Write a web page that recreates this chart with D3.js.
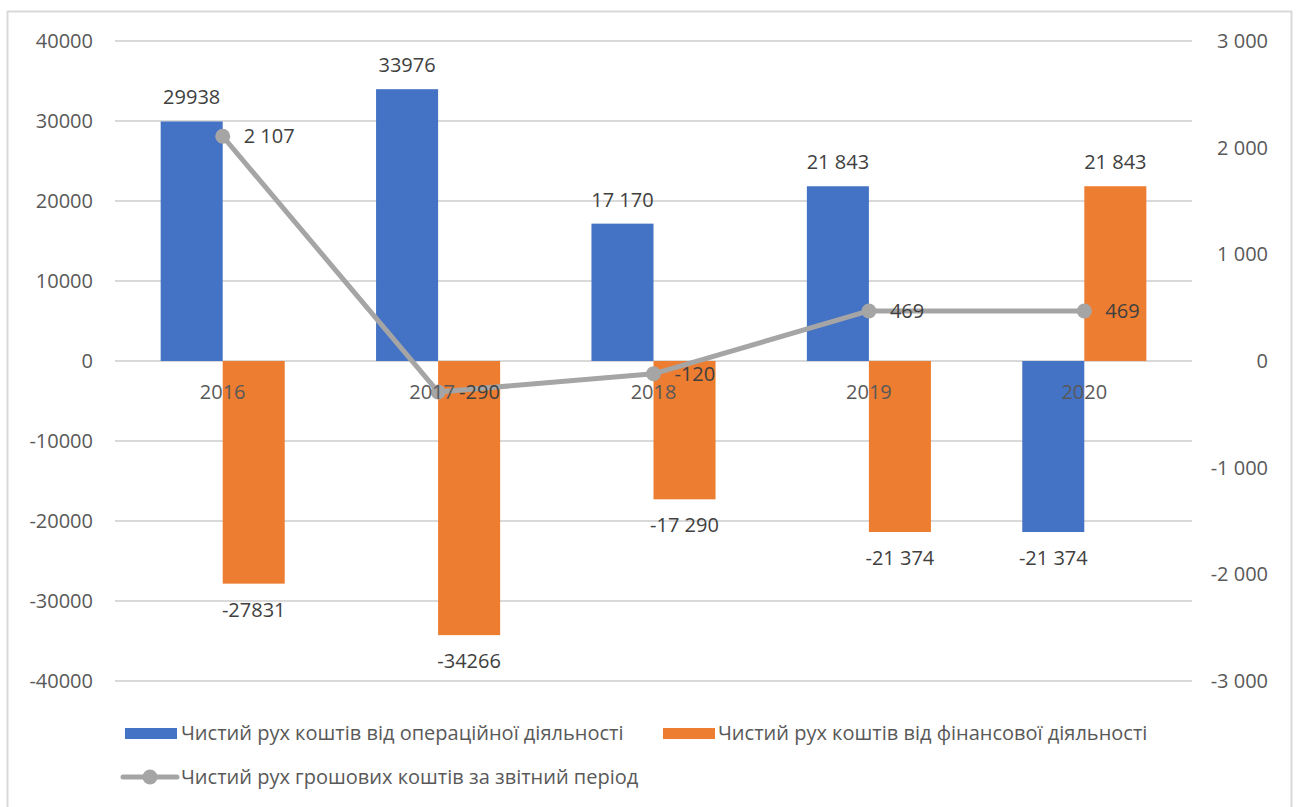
<!DOCTYPE html>
<html>
<head>
<meta charset="utf-8">
<script src="https://cdn.jsdelivr.net/npm/d3@7"></script>
<style>
  body { margin: 0; background: #fff; }
  text { font-family: 'Open Sans', sans-serif; }
</style>
</head>
<body>
<div id="container"></div>
<script>
const years = ['2016', '2017', '2018', '2019', '2020'];
const operating = [29938, 33976, 17170, 21843, -21374];
const financing = [-27831, -34266, -17290, -21374, 21843];
const netCash = [2107, -290, -120, 469, 469];
const operatingLabels = ['29938', '33976', '17 170', '21 843', '-21 374'];
const financingLabels = ['-27831', '-34266', '-17 290', '-21 374', '21 843'];
const netCashLabels = ['2 107', '-290', '-120', '469', '469'];
const leftTicks = [40000, 30000, 20000, 10000, 0, -10000, -20000, -30000, -40000];
const rightTicks = [3000, 2000, 1000, 0, -1000, -2000, -3000];
const seriesNames = [
  'Чистий рух коштів від операційної діяльності',
  'Чистий рух коштів від фінансової діяльності',
  'Чистий рух грошових коштів за звітний період',
];

const width = 1299;
const height = 807;
const colors = { blue: '#4472C4', orange: '#ED7D31', gray: '#A5A5A5' };
const fontSize = '20px';

const svg = d3
  .select('#container')
  .append('svg')
  .attr('width', width)
  .attr('height', height);

// chart border
svg.append('rect')
  .attr('x', 7.5).attr('y', 11.5)
  .attr('width', 1284).attr('height', 810)
  .attr('fill', 'none')
  .attr('stroke', '#d9d9d9')
  .attr('stroke-width', 2);

const x = d3.scaleBand()
  .domain(years)
  .range([115, 1192])
  .paddingInner(0.424)
  .paddingOuter(0.212);

const x1 = d3.scaleBand()
  .domain(['op', 'fin'])
  .range([0, x.bandwidth()]);

const yL = d3.scaleLinear().domain([-40000, 40000]).range([681, 41]);
const yR = d3.scaleLinear().domain([-3000, 3000]).range([681, 41]);

// gridlines
svg.append('g')
  .selectAll('line')
  .data(leftTicks)
  .enter()
  .append('line')
  .attr('x1', 115).attr('x2', 1192)
  .attr('y1', d => yL(d)).attr('y2', d => yL(d))
  .attr('stroke', '#d9d9d9')
  .attr('stroke-width', 2);

// left axis labels
svg.append('g')
  .selectAll('text')
  .data(leftTicks)
  .enter()
  .append('text')
  .attr('x', 93)
  .attr('y', d => yL(d))
  .attr('dy', '0.35em')
  .attr('text-anchor', 'end')
  .attr('font-size', fontSize)
  .attr('fill', '#595959')
  .text(d => d);

// right axis labels
const fmtR = d => (d < 0 ? '-' : '') + d3.format(',')(Math.abs(d)).replace(/,/g, ' ');
svg.append('g')
  .selectAll('text')
  .data(rightTicks)
  .enter()
  .append('text')
  .attr('x', 1268)
  .attr('y', d => yR(d))
  .attr('dy', '0.35em')
  .attr('text-anchor', 'end')
  .attr('font-size', fontSize)
  .attr('fill', '#595959')
  .text(fmtR);

// bars
const bars = [
  { key: 'op', values: operating, labels: operatingLabels, color: colors.blue },
  { key: 'fin', values: financing, labels: financingLabels, color: colors.orange },
];

bars.forEach(s => {
  const g = svg.append('g');
  g.selectAll('rect')
    .data(s.values)
    .enter()
    .append('rect')
    .attr('x', (d, i) => x(years[i]) + x1(s.key))
    .attr('width', x1.bandwidth())
    .attr('y', d => yL(Math.max(0, d)))
    .attr('height', d => Math.abs(yL(d) - yL(0)))
    .attr('fill', s.color);
});

// bar data labels
bars.forEach(s => {
  svg.append('g')
    .selectAll('text')
    .data(s.values)
    .enter()
    .append('text')
    .attr('x', (d, i) => x(years[i]) + x1(s.key) + x1.bandwidth() / 2)
    .attr('y', d => (d >= 0 ? yL(d) - 24 : yL(d) + 26))
    .attr('dy', '0.35em')
    .attr('text-anchor', 'middle')
    .attr('font-size', fontSize)
    .attr('fill', '#404040')
    .text((d, i) => s.labels[i]);
});

// net cash line
const lineX = (d, i) => x(years[i]) + x.bandwidth() / 2;
const line = d3.line().x(lineX).y(d => yR(d));

svg.append('path')
  .datum(netCash)
  .attr('d', line)
  .attr('fill', 'none')
  .attr('stroke', colors.gray)
  .attr('stroke-width', 5)
  .attr('stroke-linejoin', 'round');

svg.append('g')
  .selectAll('circle')
  .data(netCash)
  .enter()
  .append('circle')
  .attr('cx', lineX)
  .attr('cy', d => yR(d))
  .attr('r', 7.5)
  .attr('fill', colors.gray);

svg.append('g')
  .selectAll('text')
  .data(netCash)
  .enter()
  .append('text')
  .attr('x', (d, i) => lineX(d, i) + 21)
  .attr('y', d => yR(d))
  .attr('dy', '0.35em')
  .attr('font-size', fontSize)
  .attr('fill', '#404040')
  .text((d, i) => netCashLabels[i]);

// category labels (drawn on top of the line, like the original)
svg.append('g')
  .selectAll('text')
  .data(years)
  .enter()
  .append('text')
  .attr('x', (d, i) => x(d) + x.bandwidth() / 2 - (i === 1 ? 6 : 0))
  .attr('y', yL(0) + 31)
  .attr('dy', '0.35em')
  .attr('text-anchor', 'middle')
  .attr('font-size', fontSize)
  .attr('fill', '#595959')
  .text(d => d);

// legend
const legend = svg.append('g').attr('font-size', fontSize);

legend.append('rect')
  .attr('x', 125).attr('y', 728).attr('width', 52).attr('height', 11)
  .attr('fill', colors.blue);
legend.append('text')
  .attr('x', 181).attr('y', 733).attr('dy', '0.35em')
  .attr('fill', '#595959')
  .text(seriesNames[0]);

legend.append('rect')
  .attr('x', 663).attr('y', 728).attr('width', 52).attr('height', 11)
  .attr('fill', colors.orange);
legend.append('text')
  .attr('x', 718).attr('y', 733).attr('dy', '0.35em')
  .attr('fill', '#595959')
  .text(seriesNames[1]);

legend.append('line')
  .attr('x1', 123).attr('x2', 177).attr('y1', 777).attr('y2', 777)
  .attr('stroke', colors.gray).attr('stroke-width', 5)
  .attr('stroke-linecap', 'round');
legend.append('circle')
  .attr('cx', 150).attr('cy', 777).attr('r', 7.5)
  .attr('fill', colors.gray);
legend.append('text')
  .attr('x', 181).attr('y', 777).attr('dy', '0.35em')
  .attr('fill', '#595959')
  .text(seriesNames[2]);
</script>
</body>
</html>
